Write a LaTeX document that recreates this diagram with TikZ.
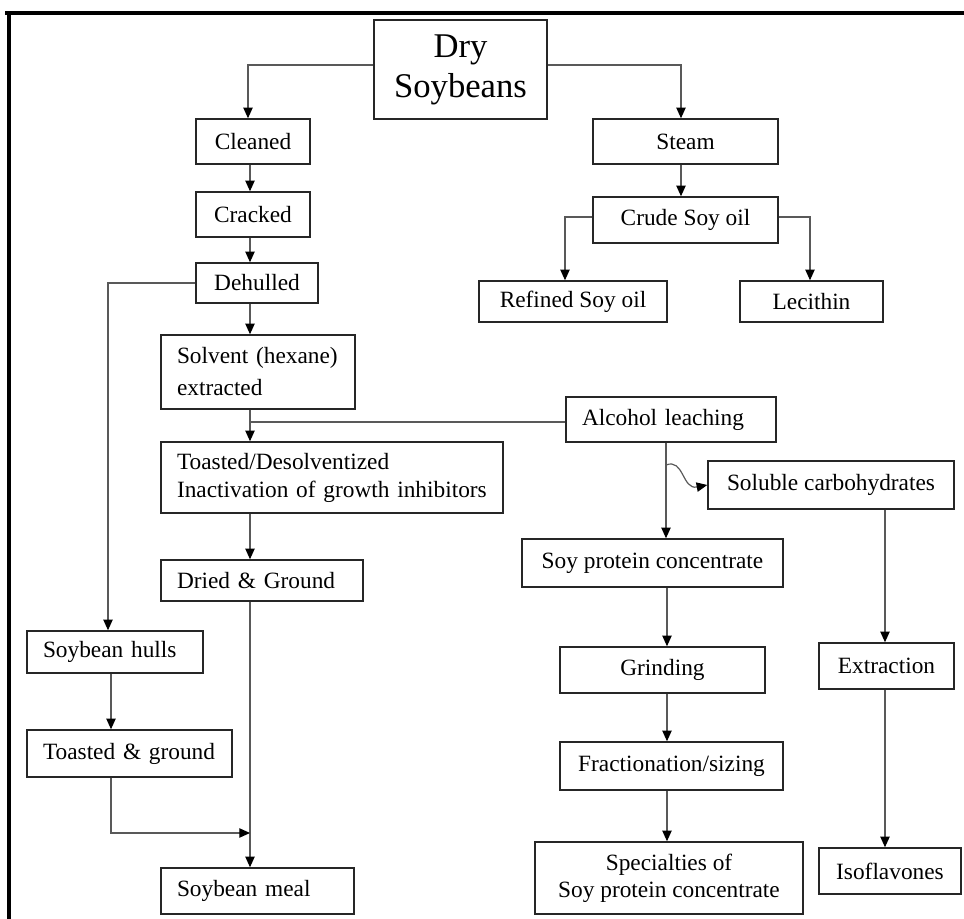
\documentclass[tikz,border=0pt]{standalone}
\usepackage{fontspec}
\setmainfont{Liberation Serif}
\usetikzlibrary{arrows.meta}
\tikzset{
  box/.style={draw=black!85, line width=1.1pt, inner ysep=0pt, align=center,
    font=\fontsize{17.5}{22}\selectfont},
  lbox/.style={box, align=left, inner xsep=12pt},
  conn/.style={draw=black!65, line width=0.9pt, -{Triangle[length=8pt,width=7pt,color=black]}},
  plain/.style={draw=black!65, line width=0.9pt},
  frame/.style={draw=black, line width=2.4pt}
}
\begin{document}
\begin{tikzpicture}[x=0.75pt,y=-0.75pt]
\useasboundingbox (0,0) rectangle (964,919);
\draw[frame] (5,13) -- (964,13);
\draw[frame] (9,12) -- (9,919);

% nodes
\node[box, minimum width=129.75pt, minimum height=74.25pt, font=\fontsize{26}{30}\selectfont] (dry) at (460.5,69.5) {Dry\\Soybeans};
\node[box, minimum width=85.5pt, minimum height=33.75pt] (cleaned) at (253,141.5) {Cleaned};
\node[box, minimum width=85.5pt, minimum height=33.75pt] (cracked) at (253,214.5) {Cracked};
\node[box, minimum width=91.5pt, minimum height=30pt] (dehulled) at (257,283) {Dehulled};
\node[box, minimum width=138.75pt, minimum height=33.75pt] (steam) at (685.5,141.5) {Steam};
\node[box, minimum width=138.75pt, minimum height=34.5pt] (crude) at (685.5,220) {Crude Soy oil};
\node[box, minimum width=141pt, minimum height=30.75pt] (refined) at (573,301.5) {Refined Soy oil};
\node[box, minimum width=107.25pt, minimum height=30.75pt] (lecithin) at (811.5,301.5) {Lecithin};
\node[lbox, text width=121.5pt, minimum width=145.5pt, minimum height=55.5pt, font=\fontsize{17.5}{24}\selectfont] (solvent) at (258,372) {\mbox{Solvent (hexane)}\\extracted};
\node[lbox, text width=133.5pt, minimum width=157.5pt, minimum height=33.75pt] (alcohol) at (671,419.5) {\mbox{Alcohol leaching}};
\node[lbox, text width=232.5pt, minimum width=256.5pt, minimum height=53.25pt, font=\fontsize{17.5}{21}\selectfont] (toasted) at (332,477.5) {\mbox{Toasted/Desolventized}\\\mbox{Inactivation of growth inhibitors}};
\node[box, minimum width=184.5pt, minimum height=36pt] (soluble) at (831,485) {Soluble carbohydrates};
\node[lbox, text width=127.5pt, minimum width=151.5pt, minimum height=30.75pt] (dried) at (262,580.5) {\mbox{Dried \& Ground}};
\node[box, minimum width=195.75pt, minimum height=36pt] (spc) at (652.5,563) {Soy protein concentrate};
\node[lbox, text width=108pt, minimum width=132pt, minimum height=31.5pt] (hulls) at (115,652) {\mbox{Soybean hulls}};
\node[box, minimum width=153.75pt, minimum height=34.5pt] (grinding) at (662.5,670) {Grinding};
\node[box, minimum width=101.25pt, minimum height=34.5pt] (extraction) at (886.5,666) {Extraction};
\node[lbox, text width=129.75pt, minimum width=153.75pt, minimum height=35.25pt] (tg) at (129.5,753.5) {\mbox{Toasted \& ground}};
\node[box, minimum width=167.25pt, minimum height=36pt] (frac) at (671.5,766) {Fractionation/sizing};
\node[lbox, text width=120.75pt, minimum width=144.75pt, minimum height=34.5pt] (meal) at (257.5,891) {\mbox{Soybean meal}};
\node[box, minimum width=201pt, minimum height=54pt, font=\fontsize{17.5}{20}\selectfont] (spec) at (669,878) {Specialties of\\Soy protein concentrate};
\node[box, minimum width=106.5pt, minimum height=34.5pt] (iso) at (890,871) {Isoflavones};

% helper x positions
\coordinate (c248) at (248,0);
\coordinate (c250) at (250,0);
\coordinate (c681) at (681,0);
\coordinate (c565) at (565,0);
\coordinate (c810) at (810,0);
\coordinate (c108) at (108,0);
\coordinate (c111) at (111,0);
\coordinate (c666) at (666,0);
\coordinate (c667) at (667,0);
\coordinate (c885) at (885,0);
\coordinate (j1) at (250,422);
\coordinate (j2) at (250,833);
\coordinate (cs) at (666,465);

% connectors
\draw[conn] ([yshift=3.4pt]dry.west) -| (c248 |- cleaned.north);
\draw[conn] ([yshift=3.4pt]dry.east) -| (c681 |- steam.north);
\draw[conn] (c250 |- cleaned.south) -- (c250 |- cracked.north);
\draw[conn] (c250 |- cracked.south) -- (c250 |- dehulled.north);
\draw[conn] (c250 |- dehulled.south) -- (c250 |- solvent.north);
\draw[conn] (c681 |- steam.south) -- (c681 |- crude.north);
\draw[conn] ([yshift=2.25pt]crude.west) -| (c565 |- refined.north);
\draw[conn] ([yshift=2.25pt]crude.east) -| (c810 |- lecithin.north);
\draw[conn] (dehulled.west) -| (c108 |- hulls.north);
\draw[conn] (c250 |- solvent.south) -- (c250 |- toasted.north);
\draw[plain] (alcohol.west |- j1) -- (j1);
\draw[conn] (c250 |- toasted.south) -- (c250 |- dried.north);
\draw[conn] (c250 |- dried.south) -- (c250 |- meal.north);
\draw[conn] (c666 |- alcohol.south) -- (c666 |- spc.north);
\draw[conn] (cs) .. controls (684,458) and (682,490) .. (soluble.west);
\draw[conn] (c885 |- soluble.south) -- (c885 |- extraction.north);
\draw[conn] (c885 |- extraction.south) -- (c885 |- iso.north);
\draw[conn] (c667 |- spc.south) -- (c667 |- grinding.north);
\draw[conn] (c667 |- grinding.south) -- (c667 |- frac.north);
\draw[conn] (c667 |- frac.south) -- (c667 |- spec.north);
\draw[conn] (c111 |- hulls.south) -- (c111 |- tg.north);
\draw[conn] (c111 |- tg.south) |- (j2);
\end{tikzpicture}
\end{document}
